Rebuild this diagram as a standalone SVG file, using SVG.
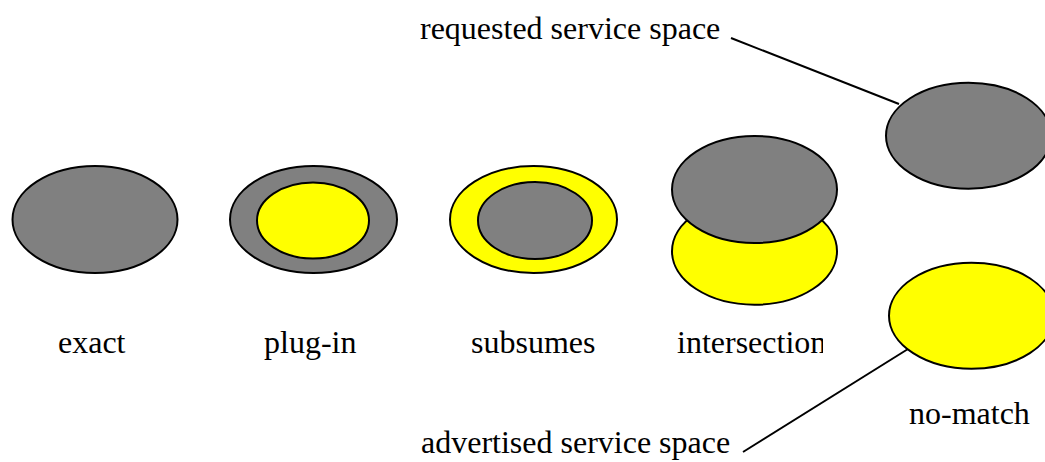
<svg xmlns="http://www.w3.org/2000/svg" width="1045" height="462" viewBox="0 0 1045 462">
  <style>
    .req { fill: #808080; stroke: #000; stroke-width: 2; }
    .adv { fill: #ffff00; stroke: #000; stroke-width: 2; }
    .lbl { font-family: "Liberation Serif", "Times New Roman", serif; font-size: 32px; fill: #000; }
    .conn { stroke: #000; stroke-width: 2; fill: none; }
  </style>
  <defs>
    <clipPath id="clipInter"><rect x="600" y="300" width="223" height="80"/></clipPath>
  </defs>
  <rect width="1045" height="462" fill="#fff"/>

  <g id="exact">
    <ellipse class="req" cx="95" cy="219.5" rx="82.5" ry="53.5"/>
    <text class="lbl" x="58" y="353">exact</text>
  </g>

  <g id="plug-in">
    <ellipse class="req" cx="313.5" cy="219.5" rx="83.5" ry="53.5"/>
    <ellipse class="adv" cx="313" cy="220.5" rx="56" ry="38"/>
    <text class="lbl" x="264" y="353">plug-in</text>
  </g>

  <g id="subsumes">
    <ellipse class="adv" cx="533.5" cy="219.5" rx="83.5" ry="53.5"/>
    <ellipse class="req" cx="535" cy="220.5" rx="57" ry="38.5"/>
    <text class="lbl" x="471" y="353">subsumes</text>
  </g>

  <g id="intersection">
    <ellipse class="adv" cx="754.5" cy="251.2" rx="82.5" ry="53.5"/>
    <ellipse class="req" cx="754.5" cy="189.5" rx="82.5" ry="53.5"/>
    <text class="lbl" x="677" y="353" clip-path="url(#clipInter)">intersection</text>
  </g>

  <g id="no-match">
    <ellipse class="req" cx="968.5" cy="135.7" rx="82.5" ry="53"/>
    <ellipse class="adv" cx="971.5" cy="315.7" rx="82.5" ry="53"/>
    <text class="lbl" x="909" y="424">no-match</text>
  </g>

  <g id="requested-label">
    <text class="lbl" x="420" y="39">requested service space</text>
  </g>
  <g id="advertised-label">
    <text class="lbl" x="421" y="453">advertised service space</text>
  </g>

  <g id="connectors">
    <line class="conn" x1="731" y1="38" x2="899" y2="104"/>
    <line class="conn" x1="743" y1="452" x2="908" y2="349"/>
  </g>
</svg>
